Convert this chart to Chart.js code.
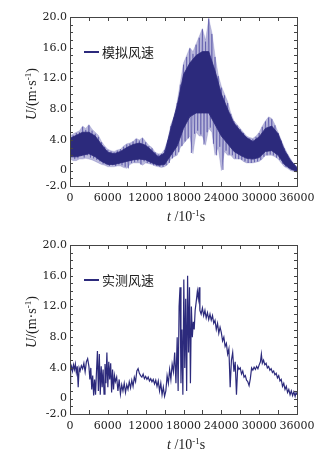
<!DOCTYPE html>
<html>
<head>
  <meta charset="utf-8">
  <title>风速时程</title>
  <script src="https://cdn.jsdelivr.net/npm/chart.js"></script>
  <style>
    html, body { margin: 0; padding: 0; background: #fff; }
    .box { position: absolute; left: 0; width: 336px; height: 228px; }
    #top { top: 0; }
    #bottom { top: 228px; }
  </style>
</head>
<body>
  <div class="box" id="top"><canvas id="simChart" width="336" height="228"></canvas></div>
  <div class="box" id="bottom"><canvas id="realChart" width="336" height="228"></canvas></div>

  <script>
    // ---- data ----
    const xTicks = [0, 6000, 12000, 18000, 24000, 30000, 36000];
    const yTicks = [-2, 0, 4, 8, 12, 16, 20];

    // simulated wind: outer envelope (spike tips) of the noisy band
    const tOuter = [0, 500, 1000, 1500, 2000, 2500, 3000, 3500, 4000, 4500, 5000, 5500, 6000, 6500, 7000, 7500, 8000, 8500, 9000, 9500,
      10000, 10500, 11000, 11500, 12000, 12500, 13000, 13500, 14000, 14500, 15000, 15500, 16000, 16500, 17000, 17500, 18000, 18500, 19000, 19500,
      20000, 20500, 21000, 21500, 22000, 22500, 23000, 23500, 24000, 24500, 25000, 25500, 26000, 26500, 27000, 27500, 28000, 28500, 29000, 29500,
      30000, 30500, 31000, 31500, 32000, 32500, 33000, 33500, 34000, 34500, 35000, 35500, 36000];
    const simOuterHi = [4.5, 4.8, 5.0, 5.2, 5.8, 5.5, 6.0, 5.4, 5.0, 4.6, 3.8, 3.2, 2.8, 2.6, 2.5, 2.7, 2.8, 3.2, 3.5, 3.6,
      3.8, 4.2, 4.0, 4.3, 3.8, 3.3, 3.0, 2.4, 2.2, 2.2, 2.8, 4.0, 6.0, 7.0, 9.0, 11.5, 14.0, 15.0, 16.0, 15.5,
      16.5, 17.5, 18.5, 17.0, 19.8, 18.0, 15.0, 12.5, 11.0, 10.0, 9.0, 7.5, 6.5, 6.0, 5.5, 5.0, 4.5, 4.3, 4.2, 4.5,
      5.0, 5.8, 6.5, 7.0, 6.8, 6.0, 5.0, 4.0, 3.0, 2.2, 1.5, 0.9, 0.5];
    const simOuterLo = [1.5, 1.3, 1.3, 1.5, 1.5, 1.6, 1.5, 1.4, 1.2, 1.0, 0.8, 0.7, 0.5, 0.5, 0.5, 0.6, 0.6, 0.4, 0.3, 0.8,
      1.0, 1.0, 1.0, 0.7, 1.0, 0.9, 0.8, 0.6, 0.5, 0.4, 0.5, 0.8, 1.5, 1.8, 2.0, 3.0, 3.5, 4.0, 4.5, 2.2,
      5.0, 4.5, 4.5, 3.3, 5.5, 5.0, 2.0, 3.0, 0.0, 2.5, 2.0, 2.0, 1.5, 1.5, 1.5, 1.2, 1.0, 1.0, 1.0, 1.1,
      1.2, 1.5, 2.0, 2.0, 2.0, 1.8, 1.5, 1.0, 0.5, 0.3, 0.0, -0.1, -0.2];

    // simulated wind: dense dark core of the band
    const tCore = [0, 1000, 2000, 3000, 4000, 5000, 6000, 7000, 8000, 9000, 10000, 11000, 12000, 13000, 14000, 15000, 16000, 17000, 18000,
      19000, 20000, 21000, 22000, 23000, 24000, 25000, 26000, 27000, 28000, 29000, 30000, 31000, 32000, 33000, 34000, 35000, 36000];
    const simCoreHi = [4.2, 4.6, 5.0, 5.0, 4.5, 3.4, 2.4, 2.2, 2.5, 3.0, 3.4, 3.6, 3.3, 2.6, 1.8, 2.3, 5.5, 8.5, 12.5,
      14.0, 15.0, 15.5, 15.5, 13.0, 10.0, 8.0, 6.2, 5.2, 4.3, 3.8, 4.4, 5.5, 5.8, 4.8, 2.7, 1.3, 0.4];
    const simCoreLo = [1.8, 1.8, 2.0, 2.2, 1.8, 1.2, 0.8, 0.8, 1.0, 1.2, 1.4, 1.5, 1.4, 1.0, 0.7, 0.8, 2.0, 3.2, 5.5,
      7.0, 7.5, 7.5, 7.5, 6.0, 4.5, 3.5, 2.5, 2.0, 1.6, 1.5, 1.7, 2.5, 2.6, 2.0, 0.8, 0.2, -0.1];

    // simulated wind: individual spikes through the band
    const tSpike = [0, 250, 500, 750, 1000, 1250, 1500, 1750, 2000, 2250, 2500, 2750, 3000, 3250, 3500, 3750, 4000, 4250, 4500, 4750,
      5000, 5250, 5500, 5750, 6000, 6250, 6500, 6750, 7000, 7250, 7500, 7750, 8000, 8250, 8500, 8750, 9000, 9250, 9500, 9750,
      10000, 10250, 10500, 10750, 11000, 11250, 11500, 11750, 12000, 12250, 12500, 12750, 13000, 13250, 13500, 13750, 14000, 14250, 14500, 14750,
      15000, 15250, 15500, 15750, 16000, 16250, 16500, 16750, 17000, 17250, 17500, 17750, 18000, 18250, 18500, 18750, 19000, 19250, 19500, 19750,
      20000, 20250, 20500, 20750, 21000, 21250, 21500, 21750, 22000, 22250, 22500, 22750, 23000, 23250, 23500, 23750, 24000, 24250, 24500, 24750,
      25000, 25250, 25500, 25750, 26000, 26250, 26500, 26750, 27000, 27250, 27500, 27750, 28000, 28250, 28500, 28750, 29000, 29250, 29500, 29750,
      30000, 30250, 30500, 30750, 31000, 31250, 31500, 31750, 32000, 32250, 32500, 32750, 33000, 33250, 33500, 33750, 34000, 34250, 34500, 34750,
      35000, 35250, 35500, 35750, 36000];
    const uSpike = [4.2, 1.8, 4.6, 1.5, 4.9, 1.6, 5.0, 1.9, 5.7, 1.7, 5.3, 2.0, 5.9, 1.7, 5.2, 1.6, 4.8, 1.4, 4.4, 1.2,
      3.7, 0.9, 3.1, 0.8, 2.7, 0.6, 2.5, 0.7, 2.4, 0.6, 2.6, 0.8, 2.8, 0.7, 3.1, 0.5, 3.4, 0.3, 3.5, 1.0,
      3.8, 1.1, 4.1, 1.2, 3.9, 0.8, 4.2, 1.2, 3.7, 1.0, 3.2, 0.9, 2.9, 0.7, 2.4, 0.6, 2.1, 0.5, 2.2, 0.5,
      2.7, 0.7, 3.9, 1.0, 5.8, 1.6, 6.9, 2.0, 8.8, 2.4, 11.2, 3.2, 13.8, 3.8, 14.8, 4.2, 15.9, 2.3, 15.2, 4.8,
      16.4, 5.2, 17.3, 4.7, 18.4, 3.4, 16.8, 5.0, 19.8, 5.6, 17.8, 3.5, 14.8, 2.0, 12.3, 3.1, 10.8, 0.1, 9.8, 2.6,
      8.8, 2.1, 7.4, 2.0, 6.4, 1.6, 5.9, 1.5, 5.4, 1.4, 4.9, 1.2, 4.4, 1.0, 4.2, 1.0, 4.1, 1.1, 4.4, 1.2,
      4.9, 1.4, 5.7, 1.8, 6.4, 2.0, 6.9, 2.1, 6.7, 2.0, 5.9, 1.7, 4.9, 1.4, 3.9, 0.9, 2.9, 0.5, 2.1, 0.3,
      1.4, 0.1, 0.8, 0.0, 0.3];

    // measured wind
    const tReal = [0, 100, 250, 400, 550, 700, 850, 1000, 1150, 1300, 1450, 1600, 1800, 2000, 2200, 2400, 2600, 2800, 3000, 3150,
      3300, 3450, 3600, 3750, 3900, 4050, 4200, 4350, 4500, 4650, 4800, 4950, 5100, 5250, 5400, 5550, 5700, 5850, 6000, 6150,
      6300, 6450, 6600, 6750, 6900, 7050, 7200, 7400, 7600, 7800, 8000, 8200, 8400, 8600, 8800, 9000, 9200, 9400, 9600, 9800,
      10000, 10200, 10400, 10600, 10800, 11000, 11200, 11400, 11600, 11800, 12000, 12200, 12400, 12600, 12800, 13000, 13200, 13400, 13600, 13800,
      14000, 14200, 14400, 14600, 14800, 15000, 15200, 15400, 15600, 15800, 16000, 16200, 16400, 16600, 16800, 17000, 17150, 17300, 17450, 17600,
      17750, 17900, 18050, 18200, 18350, 18500, 18650, 18800, 18950, 19100, 19250, 19400, 19550, 19700, 19850, 20000, 20200, 20350, 20500, 20600,
      20800, 21000, 21200, 21400, 21600, 21800, 22000, 22200, 22400, 22600, 22800, 23000, 23200, 23400, 23600, 23800, 24000, 24200, 24400, 24600,
      24800, 25000, 25200, 25400, 25600, 25800, 26000, 26200, 26400, 26600, 26800, 27000, 27200, 27400, 27600, 27800, 28000, 28200, 28400, 28600,
      28800, 29000, 29200, 29400, 29600, 29800, 30000, 30200, 30350, 30500, 30700, 30900, 31100, 31300, 31500, 31700, 31900, 32100, 32300, 32500,
      32700, 32900, 33100, 33300, 33500, 33700, 33900, 34100, 34300, 34500, 34700, 34900, 35100, 35300, 35500, 35700, 35850, 36000];
    const uReal = [2.0, 3.5, 4.2, 3.6, 4.4, 3.8, 4.5, 3.4, 4.2, 1.5, 4.0, 3.6, 4.3, 3.9, 4.6, 3.5, 4.8, 5.2, 4.2, 2.5,
      4.0, 1.2, 3.0, 0.4, 2.5, 0.5, 3.5, 6.2, 1.0, 5.8, 0.5, 4.2, 1.5, 3.8, 0.6, 4.5, 2.0, 6.0, 1.5, 4.8,
      2.5, 4.6, 0.8, 3.8, 1.2, 3.0, 2.2, 2.8, 1.0, 2.5, 0.6, 1.8, 1.0, 2.0, 0.8, 1.8, 1.2, 2.2, 1.4, 2.4,
      1.6, 2.8, 2.2, 3.6, 3.9, 3.3, 3.0, 2.8, 3.2, 2.6, 2.9, 2.5, 2.8, 2.3, 2.6, 2.2, 2.5, 1.9, 2.4, 1.6,
      2.3, 1.0, 2.0, 0.5, 1.5, 0.3, 1.0, 3.0, 2.0, 3.8, 2.5, 4.5, 3.5, 6.0, 2.0, 8.0, 1.0, 12.0, 14.5, 2.0,
      9.0, 0.5, 15.5, 4.0, 13.0, 1.0, 16.0, 6.0, 14.5, 2.0, 12.0, 8.0, 10.0, 9.0, 11.5, 12.5, 14.0, 13.0, 14.5, 11.5,
      11.0, 11.8, 10.8, 11.5, 10.5, 11.2, 10.3, 11.0, 10.2, 10.8, 9.8, 10.2, 9.0, 9.8, 8.5, 9.3, 8.6, 7.5, 8.0, 6.8,
      7.2, 5.8, 6.5, 1.5, 5.0, 6.0, 3.5, 4.8, 0.5, 4.2, 3.8, 4.0, 3.2, 3.6, 2.8, 3.0, 2.4, 2.2, 1.7, 2.6,
      4.0, 3.7, 4.1, 3.8, 4.2, 3.9, 4.4, 4.8, 5.8, 4.6, 5.0, 4.4, 4.6, 4.0, 4.2, 3.7, 3.9, 3.4, 3.6, 3.1,
      3.3, 2.7, 3.0, 2.3, 2.5, 1.6, 2.0, 1.2, 1.6, 0.8, 1.2, 0.5, 1.0, 0.4, 0.9, 0.3, 0.8, 0.5];

    const navy = '#2c2a7c';
    const frameColor = '#444';
    const serif = '"Liberation Serif", "Times New Roman", serif';
    const tickFont = '"DejaVu Serif", serif';

    function pts(xs, ys) {
      return xs.map((x, i) => ({ x: x, y: ys[i] }));
    }

    // frame, inward ticks, legend and axis titles
    const decorPlugin = {
      id: 'decor',
      afterDatasetsDraw(chart, args, opts) {
        const ctx = chart.ctx;
        const a = chart.chartArea;
        const xs = chart.scales.x, ys = chart.scales.y;
        ctx.save();
        ctx.strokeStyle = frameColor;
        ctx.lineWidth = 1;
        ctx.strokeRect(Math.round(a.left) + 0.5, Math.round(a.top) + 0.5,
          Math.round(a.right - a.left), Math.round(a.bottom - a.top));
        ctx.beginPath();
        for (let v = -2; v <= 20; v += 1) {
          const y = Math.round(ys.getPixelForValue(v)) + 0.5;
          ctx.moveTo(a.left, y); ctx.lineTo(a.left + 3, y);
          ctx.moveTo(a.right, y); ctx.lineTo(a.right - 3, y);
        }
        for (let v = 0; v <= 36000; v += 3000) {
          const x = Math.round(xs.getPixelForValue(v)) + 0.5;
          ctx.moveTo(x, a.bottom); ctx.lineTo(x, a.bottom - 4);
          ctx.moveTo(x, a.top); ctx.lineTo(x, a.top + 4);
        }
        ctx.stroke();

        // legend
        ctx.strokeStyle = navy;
        ctx.lineWidth = 2;
        ctx.beginPath();
        ctx.moveTo(84, 52); ctx.lineTo(99, 52);
        ctx.stroke();
        ctx.fillStyle = '#222';
        ctx.font = '13px "Noto Sans CJK SC"';
        ctx.textBaseline = 'middle';
        ctx.textAlign = 'left';
        ctx.fillText(opts.legend, 102, 52);

        // x title: t /10^-1 s
        ctx.textBaseline = 'alphabetic';
        let x = 167, yb = 221;
        ctx.font = 'italic 14px ' + serif;
        ctx.fillText('t', x, yb); x += ctx.measureText('t ').width;
        ctx.font = '14px ' + serif;
        ctx.fillText('/10', x, yb); x += ctx.measureText('/10').width;
        ctx.font = '9px ' + serif;
        ctx.fillText('-1', x, yb - 5); x += ctx.measureText('-1').width;
        ctx.font = '14px ' + serif;
        ctx.fillText('s', x, yb);

        // y title: U/(m·s^-1), rotated
        ctx.translate(36, 120);
        ctx.rotate(-Math.PI / 2);
        x = 0;
        ctx.font = 'italic 14px ' + serif;
        ctx.fillText('U', x, 0); x += ctx.measureText('U').width;
        ctx.font = '14px ' + serif;
        ctx.fillText('/(m·s', x, 0); x += ctx.measureText('/(m·s').width;
        ctx.font = '9px ' + serif;
        ctx.fillText('-1', x, -5); x += ctx.measureText('-1').width;
        ctx.font = '14px ' + serif;
        ctx.fillText(')', x, 0);
        ctx.restore();
      }
    };

    function baseOptions(legendText) {
      return {
        responsive: false,
        animation: false,
        devicePixelRatio: 1,
        layout: { autoPadding: false, padding: { left: 0, top: 17, right: 39, bottom: 0 } },
        plugins: {
          legend: { display: false },
          tooltip: { enabled: false },
          decor: { legend: legendText }
        },
        elements: { point: { radius: 0 } },
        scales: {
          x: {
            type: 'linear', min: 0, max: 36000,
            grid: { display: false, drawTicks: false },
            border: { display: false },
            afterFit: s => { s.height = 42; },
            afterBuildTicks: s => { s.ticks = xTicks.map(v => ({ value: v })); },
            ticks: {
              padding: 6, color: '#222', maxRotation: 0, autoSkip: false,
              font: { family: tickFont, size: 11 },
              callback: v => String(v)
            }
          },
          y: {
            min: -2, max: 20,
            grid: { display: false, drawTicks: false },
            border: { display: false },
            afterFit: s => { s.width = 70; },
            afterBuildTicks: s => { s.ticks = yTicks.map(v => ({ value: v })); },
            ticks: {
              padding: 3, color: '#222', autoSkip: false,
              font: { family: tickFont, size: 11 },
              callback: v => (v === 0 ? '0' : v.toFixed(1))
            }
          }
        }
      };
    }

    new Chart(document.getElementById('simChart'), {
      type: 'line',
      data: {
        datasets: [
          { data: pts(tCore, simCoreHi), borderColor: navy, borderWidth: 0.8,
            backgroundColor: navy, fill: '+1', tension: 0 },
          { data: pts(tCore, simCoreLo), borderColor: navy, borderWidth: 0.8, fill: false, tension: 0 },
          { data: pts(tSpike, uSpike), borderColor: 'rgba(70,68,160,0.75)', borderWidth: 0.7, fill: false, tension: 0 },
          { data: pts(tOuter, simOuterHi), borderColor: 'rgba(120,118,190,0.5)', borderWidth: 0.5,
            backgroundColor: 'rgba(80,78,165,0.4)', fill: '+1', tension: 0 },
          { data: pts(tOuter, simOuterLo), borderColor: 'rgba(120,118,190,0.5)', borderWidth: 0.5, fill: false, tension: 0 }
        ]
      },
      options: baseOptions('模拟风速'),
      plugins: [decorPlugin]
    });

    new Chart(document.getElementById('realChart'), {
      type: 'line',
      data: {
        datasets: [
          { data: pts(tReal, uReal), borderColor: navy, borderWidth: 1.2, fill: false, tension: 0 }
        ]
      },
      options: baseOptions('实测风速'),
      plugins: [decorPlugin]
    });
  </script>
</body>
</html>
